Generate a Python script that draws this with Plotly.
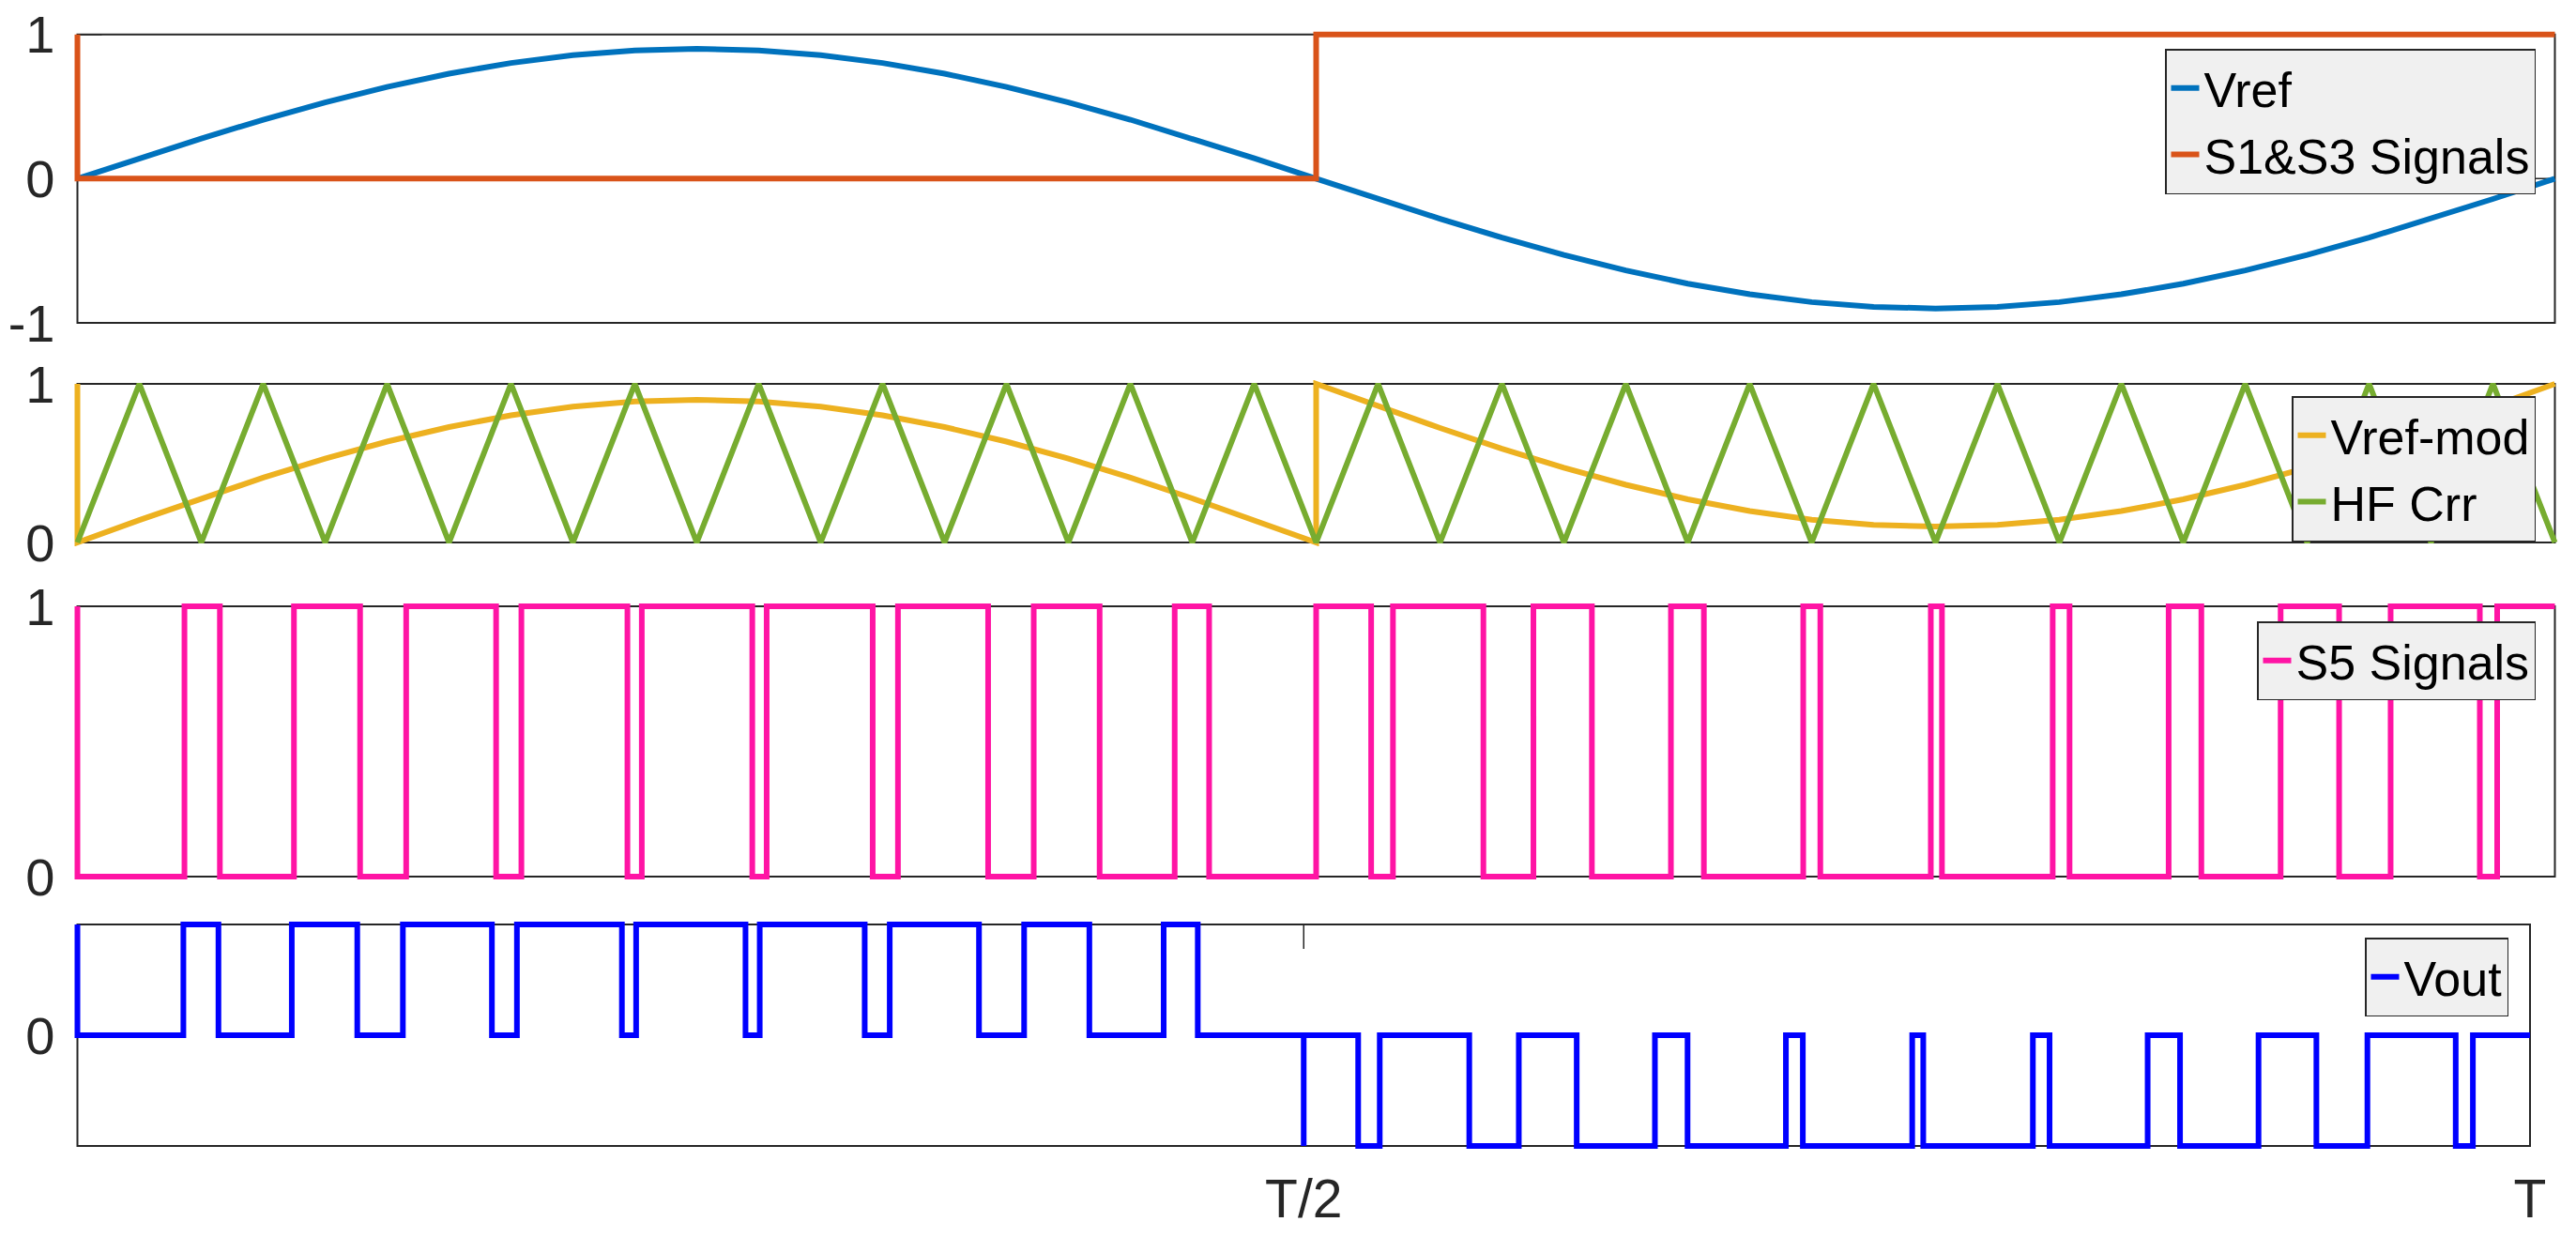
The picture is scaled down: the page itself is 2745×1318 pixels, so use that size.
import plotly.graph_objects as go

# ---------------- data ----------------
# sample instants (fraction of the period T)
t_samples = [0.000, 0.025, 0.050, 0.075, 0.100, 0.125, 0.150, 0.175, 0.200, 0.225,
             0.250, 0.275, 0.300, 0.325, 0.350, 0.375, 0.400, 0.425, 0.450, 0.475,
             0.500, 0.525, 0.550, 0.575, 0.600, 0.625, 0.650, 0.675, 0.700, 0.725,
             0.750, 0.775, 0.800, 0.825, 0.850, 0.875, 0.900, 0.925, 0.950, 0.975, 1.000]

# panel 1 : reference sine and S1&S3 gate signal
vref = [0.000, 0.141, 0.278, 0.409, 0.529, 0.636, 0.728, 0.802, 0.856, 0.889,
        0.900, 0.889, 0.856, 0.802, 0.728, 0.636, 0.529, 0.409, 0.278, 0.141,
        0.000, -0.141, -0.278, -0.409, -0.529, -0.636, -0.728, -0.802, -0.856, -0.889,
        -0.900, -0.889, -0.856, -0.802, -0.728, -0.636, -0.529, -0.409, -0.278, -0.141, 0.000]
s13_t = [0.0, 0.0, 0.5, 1.0]
s13_v = [1, 0, 1, 1]

# panel 2 : modified reference and high-frequency carrier
vref_mod_t = [0.0] + t_samples[:21] + t_samples[20:]
vref_mod_v = [1.000,
              0.000, 0.141, 0.278, 0.409, 0.529, 0.636, 0.728, 0.802, 0.856, 0.889,
              0.900, 0.889, 0.856, 0.802, 0.728, 0.636, 0.529, 0.409, 0.278, 0.141, 0.000,
              1.000, 0.859, 0.722, 0.591, 0.471, 0.364, 0.272, 0.198, 0.144, 0.111,
              0.100, 0.111, 0.144, 0.198, 0.272, 0.364, 0.471, 0.591, 0.722, 0.859, 1.000]
hf_crr_t = t_samples
hf_crr_v = [0, 1, 0, 1, 0, 1, 0, 1, 0, 1, 0, 1, 0, 1, 0, 1, 0, 1, 0, 1, 0,
            1, 0, 1, 0, 1, 0, 1, 0, 1, 0, 1, 0, 1, 0, 1, 0, 1, 0, 1, 0]

# panel 3 : S5 switching instants and levels
s5_t = [0.0, 0.0, 0.0432, 0.0575, 0.0874, 0.1141, 0.1327, 0.1690, 0.1792, 0.2220,
        0.2278, 0.2724, 0.2782, 0.3210, 0.3312, 0.3676, 0.3860, 0.4126, 0.4429, 0.4568,
        0.5000, 0.5222, 0.5310, 0.5675, 0.5877, 0.6113, 0.6432, 0.6565, 0.6966, 0.7035,
        0.7481, 0.7526, 0.7973, 0.8041, 0.8441, 0.8573, 0.8893, 0.9129, 0.9337, 0.9697,
        0.9767, 1.0]
s5_v = [1, 0, 1, 0, 1, 0, 1, 0, 1, 0,
        1, 0, 1, 0, 1, 0, 1, 0, 1, 0,
        1, 0, 1, 0, 1, 0, 1, 0, 1, 0,
        1, 0, 1, 0, 1, 0, 1, 0, 1, 0,
        1, 1]

# panel 4 : output voltage
vout_t = [0.0, 0.0, 0.0432, 0.0575, 0.0874, 0.1141, 0.1327, 0.1690, 0.1792, 0.2220,
          0.2278, 0.2724, 0.2782, 0.3210, 0.3312, 0.3676, 0.3860, 0.4126, 0.4429, 0.4568,
          0.5000, 0.5000, 0.5222, 0.5310, 0.5675, 0.5877, 0.6113, 0.6432, 0.6565, 0.6966,
          0.7035, 0.7481, 0.7526, 0.7973, 0.8041, 0.8441, 0.8573, 0.8893, 0.9129, 0.9337,
          0.9697, 0.9767, 1.0]
vout_v = [1, 0, 1, 0, 1, 0, 1, 0, 1, 0,
          1, 0, 1, 0, 1, 0, 1, 0, 1, 0,
          -1, 0, -1, 0, -1, 0, -1, 0, -1, 0,
          -1, 0, -1, 0, -1, 0, -1, 0, -1, 0,
          -1, 0, 0]

# tick labels
y_ticks = {1: ([-1, 0, 1], ["-1", "0", "1"]),
           2: ([0, 1], ["0", "1"]),
           3: ([0, 1], ["0", "1"]),
           4: ([0], ["0"])}
x4_ticks = ([0.5, 1.0], ["T/2", "T"])

# ---------------- layout geometry (page pixels) ----------------
W, H = 2745, 1318
FW, FH = W, H
PAD = 4
BOX_L = 82.5
# panel: (right px, top px, bottom px, y-range)
geom = {1: (2722.5, 36.7, 344.0, (-1, 1)),
        2: (2722.5, 409.0, 578.0, (0, 1)),
        3: (2722.5, 646.0, 934.0, (0, 1)),
        4: (2696.0, 985.0, 1221.0, (-1, 1))}
TICKLEN = 26
FONT = "Liberation Sans, Arial, Helvetica, sans-serif"
AX_COL = "#262626"

C_VREF = "#0072BD"
C_S13 = "#D95319"
C_MOD = "#EDB120"
C_HF = "#77AC30"
C_S5 = "#FF14A4"
C_VOUT = "#0000FF"
LW = 6


def px_x(p):
    return p / FW


def px_y(p):
    return 1 - p / FH


fig = go.Figure()


def ax(i, kind):
    return kind if i == 1 else f"{kind}{i}"


traces = [
    (1, "Vref", t_samples, vref, C_VREF, "linear"),
    (1, "S1&S3 Signals", s13_t, s13_v, C_S13, "hv"),
    (2, "Vref-mod", vref_mod_t, vref_mod_v, C_MOD, "linear"),
    (2, "HF Crr", hf_crr_t, hf_crr_v, C_HF, "linear"),
    (3, "S5 Signals", s5_t, s5_v, C_S5, "hv"),
    (4, "Vout", vout_t, vout_v, C_VOUT, "hv"),
]
for i, name, xs, ys, col, shape in traces:
    fig.add_trace(go.Scatter(
        x=xs, y=ys, name=name, mode="lines",
        line=dict(color=col, width=LW, shape=shape),
        xaxis=ax(i, "x"), yaxis=ax(i, "y"),
        legend=ax(i, "legend"), showlegend=True,
    ))

layout = {}
shapes = []
for i, (xr_px, yt_px, yb_px, (y0, y1)) in geom.items():
    dx = 1.0 / (xr_px - BOX_L)
    dy = (y1 - y0) / (yb_px - yt_px)
    xdom = [px_x(BOX_L - PAD), px_x(xr_px + PAD)]
    ydom = [px_y(yb_px + PAD), px_y(yt_px - PAD)]
    xa = dict(domain=xdom, range=[-PAD * dx, 1 + PAD * dx], anchor=ax(i, "y"),
              showgrid=False, zeroline=False, showline=False, ticks="",
              fixedrange=True, showticklabels=False)
    if i == 4:
        xa.update(showticklabels=True, tickvals=x4_ticks[0], ticktext=x4_ticks[1],
                  ticklabelstandoff=14, ticklabeloverflow="allow",
                  tickfont=dict(size=57, color=AX_COL, family=FONT))
    tv, tt = y_ticks[i]
    ya = dict(domain=ydom, range=[y0 - PAD * dy, y1 + PAD * dy], anchor=ax(i, "x"),
              showgrid=False, zeroline=False, showline=False, ticks="",
              fixedrange=True, tickvals=tv, ticktext=tt, ticklabelstandoff=19,
              ticklabeloverflow="allow",
              tickfont=dict(size=56, color=AX_COL, family=FONT))
    layout[ax(i, "xaxis")] = xa
    layout[ax(i, "yaxis")] = ya

    xref, yref = ax(i, "x"), ax(i, "y")
    # axes box
    shapes.append(dict(type="rect", xref=xref, yref=yref, x0=0, x1=1, y0=y0, y1=y1,
                       line=dict(color=AX_COL, width=2), layer="below"))
    # inward y ticks on both sides
    for v in tv:
        shapes.append(dict(type="line", xref=xref, yref=yref, x0=0, x1=TICKLEN * dx,
                           y0=v, y1=v, line=dict(color=AX_COL, width=1.5), layer="below"))
        shapes.append(dict(type="line", xref=xref, yref=yref, x0=1 - TICKLEN * dx, x1=1,
                           y0=v, y1=v, line=dict(color=AX_COL, width=1.5), layer="below"))
    if i == 4:
        for v in x4_ticks[0]:
            shapes.append(dict(type="line", xref=xref, yref=yref, x0=v, x1=v,
                               y0=y1, y1=y1 - TICKLEN * dy,
                               line=dict(color=AX_COL, width=1.5), layer="below"))
            shapes.append(dict(type="line", xref=xref, yref=yref, x0=v, x1=v,
                               y0=y0, y1=y0 + TICKLEN * dy,
                               line=dict(color=AX_COL, width=1.5), layer="below"))

# legends (top-right of each panel), pixel coords of the box's top-right corner
legend_pos = {1: (2702, 52), 2: (2702, 422), 3: (2702, 662), 4: (2673, 999)}
for i, (lx, ly) in legend_pos.items():
    layout[ax(i, "legend")] = dict(
        x=px_x(lx), y=px_y(ly), xanchor="right", yanchor="top",
        bgcolor="#F0F0F0", bordercolor=AX_COL, borderwidth=1.5,
        font=dict(size=52, color="black", family=FONT),
        tracegroupgap=0, itemwidth=30,
    )

fig.update_layout(
    width=FW, height=FH,
    margin=dict(l=0, r=0, t=0, b=0, autoexpand=False),
    paper_bgcolor="white", plot_bgcolor="white",
    font=dict(family=FONT, size=52, color=AX_COL),
    shapes=shapes,
    **layout,
)

# remove the browser's default 8px body margin so the figure fills the window exactly
fig.write_html("out.html",
               config={"displayModeBar": False, "staticPlot": True},
               post_script="document.body.style.margin='0px';document.body.style.overflow='hidden';")
